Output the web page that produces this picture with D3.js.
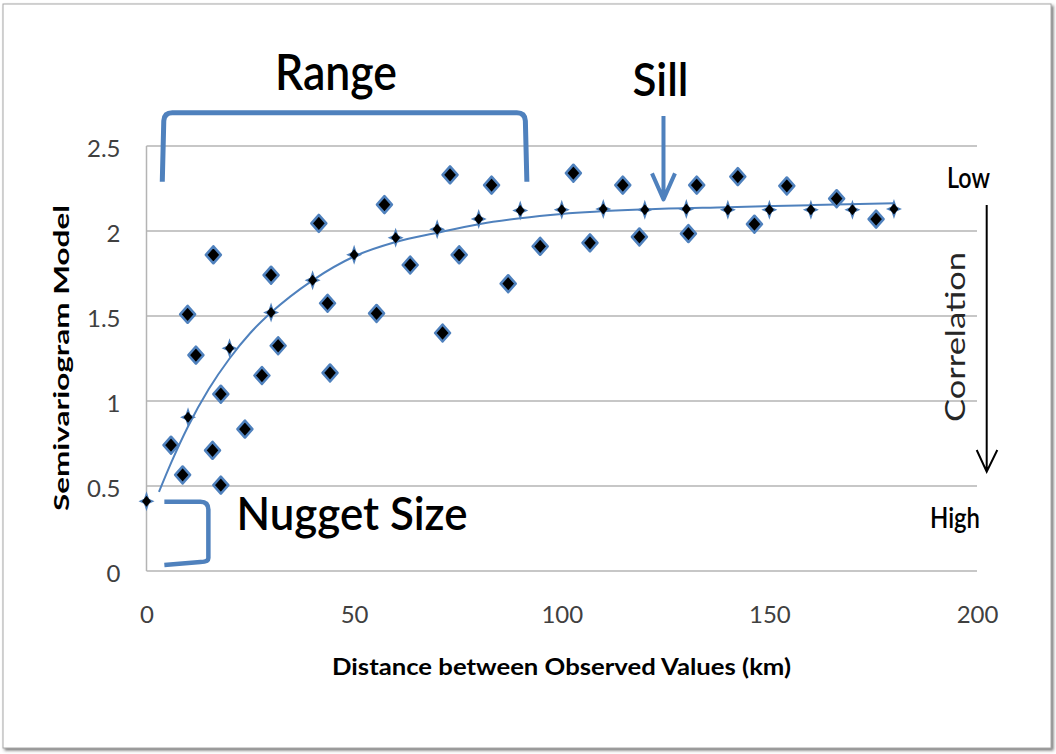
<!DOCTYPE html>
<html>
<head>
<meta charset="utf-8">
<script src="https://cdn.jsdelivr.net/npm/d3@7"></script>
<style>
  html, body { margin: 0; padding: 0; background: #fff; }
  svg { display: block; }
  text { font-family: Lato, "Liberation Sans", sans-serif; }
</style>
</head>
<body>
<div id="chart"></div>
<script>
// observed semivariance (black diamonds)
const obsDist = [5.9, 8.7, 9.9, 11.9, 15.9, 16.1, 17.9, 17.9, 23.7, 27.8, 30.0, 31.7,
    41.5, 43.6, 44.2, 55.4, 57.3, 63.5, 71.3, 73.1, 75.3, 83.1, 87.1, 94.8,
    102.8, 106.8, 114.7, 118.7, 130.5, 132.5, 142.4, 146.4, 154.2, 166.2, 175.7];
const obsGamma = [0.74, 0.565, 1.51, 1.27, 0.71, 1.86, 1.04, 0.505, 0.835, 1.15, 1.74, 1.325,
    2.045, 1.575, 1.165, 1.515, 2.155, 1.80, 1.40, 2.33, 1.86, 2.27, 1.69, 1.91,
    2.34, 1.93, 2.27, 1.965, 1.985, 2.27, 2.32, 2.04, 2.265, 2.19, 2.07];

// model values (small star markers)
const modelDist = [0, 10, 20, 30, 40, 50, 60, 70, 80, 90, 100, 110, 120, 130, 140, 150, 160, 170, 180];
const modelGamma = [0.41, 0.905, 1.31, 1.52, 1.71, 1.86, 1.96, 2.01, 2.07, 2.12, 2.125, 2.13, 2.125,
    2.13, 2.125, 2.125, 2.125, 2.125, 2.13];

// fitted trend line
const trendDist = [3, 6, 10, 15, 20, 25, 30, 40, 50, 60, 70, 80, 90, 100, 120, 140, 160, 180];
const trendGamma = [0.465, 0.64, 0.85, 1.07, 1.25, 1.40, 1.52, 1.71, 1.85, 1.935, 1.99, 2.04,
    2.075, 2.10, 2.127, 2.14, 2.152, 2.163];

const xTicks = [0, 50, 100, 150, 200];
const yTicks = [0, 0.5, 1, 1.5, 2, 2.5];

const width = 1056;
const height = 754;
const blue = "#4f81bd";
const grid = "#b4b4b4";

const svg = d3.select("#chart")
    .append("svg")
    .attr("width", width)
    .attr("height", height);

// Schatten fuer den Rahmen
const defs = svg.append("defs");
defs.append("filter")
    .attr("id", "shadow")
    .attr("x", "-5%").attr("y", "-5%").attr("width", "110%").attr("height", "110%")
    .append("feDropShadow")
    .attr("dx", 2).attr("dy", 2).attr("stdDeviation", 1.5)
    .attr("flood-color", "#555").attr("flood-opacity", 0.8);

svg.append("rect")
    .attr("x", 3).attr("y", 4)
    .attr("width", 1048).attr("height", 744)
    .attr("fill", "#fff")
    .attr("stroke", "#a8a8a8")
    .attr("stroke-width", 1)
    .attr("filter", "url(#shadow)");

const xScale = d3.scaleLinear().domain([0, 200]).range([146.5, 977]);
const yScale = d3.scaleLinear().domain([0, 2.5]).range([571, 146]);

// Gitterlinien
svg.append("g")
    .selectAll("line")
    .data(yTicks)
    .join("line")
    .attr("x1", xScale(0)).attr("x2", xScale(200))
    .attr("y1", d => yScale(d)).attr("y2", d => yScale(d))
    .attr("stroke", grid)
    .attr("stroke-width", 1.5);

svg.append("line")
    .attr("x1", xScale(0)).attr("x2", xScale(0))
    .attr("y1", yScale(2.5)).attr("y2", yScale(0))
    .attr("stroke", grid)
    .attr("stroke-width", 1.5);

// Achsenbeschriftung (ohne Achsenlinie, nur Text)
const leftAxis = d3.axisLeft(yScale).tickValues(yTicks).tickSize(0).tickPadding(26)
    .tickFormat(d3.format("~g"));
const yAxisG = svg.append("g")
    .attr("transform", `translate(${xScale(0)},0)`)
    .call(leftAxis);
yAxisG.select(".domain").remove();
yAxisG.selectAll("text")
    .attr("font-family", "Lato, 'Liberation Sans', sans-serif")
    .attr("font-size", 24)
    .attr("fill", "#404040")
    .attr("dy", "0.45em");

const bottomAxis = d3.axisBottom(xScale).tickValues(xTicks).tickSize(0).tickPadding(35);
const xAxisG = svg.append("g")
    .attr("transform", `translate(0,${yScale(0)})`)
    .call(bottomAxis);
xAxisG.select(".domain").remove();
xAxisG.selectAll("text")
    .attr("font-family", "Lato, 'Liberation Sans', sans-serif")
    .attr("font-size", 24)
    .attr("fill", "#404040");

svg.append("text")
    .text("Distance between Observed Values (km)")
    .attr("x", 561.5).attr("y", 675)
    .attr("text-anchor", "middle")
    .attr("font-size", 22).attr("font-weight", "bold")
    .attr("textLength", 459).attr("lengthAdjust", "spacingAndGlyphs");

svg.append("text")
    .text("Semivariogram Model")
    .attr("transform", "translate(69,358) rotate(-90)")
    .attr("text-anchor", "middle")
    .attr("font-size", 20).attr("font-weight", "bold")
    .attr("textLength", 306).attr("lengthAdjust", "spacingAndGlyphs");

// Trendkurve
const trend = trendDist.map((d, i) => ({x: d, y: trendGamma[i]}));
const curveGenerator = d3.line()
    .x(d => xScale(d.x))
    .y(d => yScale(d.y))
    .curve(d3.curveMonotoneX);
svg.append("path")
    .attr("d", curveGenerator(trend))
    .attr("fill", "none")
    .attr("stroke", blue)
    .attr("stroke-width", 2);

// Modellpunkte als kleine Sterne
const model = modelDist.map((d, i) => ({x: d, y: modelGamma[i]}));
const star = "M0,-10L2.5,-2.5L8,0L2.5,2.5L0,10L-2.5,2.5L-8,0L-2.5,-2.5Z";
const diamond = (w, h) => `M0,${-h}L${w},0L0,${h}L${-w},0Z`;
const modelG = svg.append("g")
    .selectAll("g")
    .data(model)
    .join("g")
    .attr("transform", d => `translate(${xScale(d.x)},${yScale(d.y)})`);
modelG.append("path").attr("d", star).attr("fill", blue);
modelG.append("path").attr("d", diamond(4.5, 5.5)).attr("fill", "#000");

// beobachtete Werte
const obs = obsDist.map((d, i) => ({x: d, y: obsGamma[i]}));
svg.append("g")
    .selectAll("path")
    .data(obs)
    .join("path")
    .attr("transform", d => `translate(${xScale(d.x)},${yScale(d.y)})`)
    .attr("d", diamond(7.5, 8.5))
    .attr("fill", "#000")
    .attr("stroke", blue)
    .attr("stroke-width", 2.5)
    .attr("stroke-linejoin", "round");

// Annotationen: Range-Klammer, Sill-Pfeil, Nugget-Klammer
const rangeL = xScale(3.8), rangeR = xScale(91.6), rangeB = yScale(2.29), rangeT = yScale(2.695);
svg.append("path")
    .attr("d", `M${rangeL},${rangeB}L${rangeL + 1.5},${rangeT + 8}Q${rangeL + 2},${rangeT} ${rangeL + 10},${rangeT}` +
        `L${rangeR - 10},${rangeT}Q${rangeR - 2},${rangeT} ${rangeR - 1.5},${rangeT + 8}L${rangeR},${rangeB}`)
    .attr("fill", "none")
    .attr("stroke", blue)
    .attr("stroke-width", 5);

const sillX = xScale(124.5), sillTop = yScale(2.676), sillTip = yScale(2.186);
svg.append("path")
    .attr("d", `M${sillX},${sillTop}L${sillX},${sillTip - 2}M${sillX - 11.5},${sillTip - 26}L${sillX},${sillTip}L${sillX + 11.5},${sillTip - 26}`)
    .attr("fill", "none")
    .attr("stroke", blue)
    .attr("stroke-width", 4)
    .attr("stroke-linejoin", "round");

const nugL = xScale(4.3), nugR = xScale(14.9), nugT = yScale(0.408), nugB = yScale(0.041);
svg.append("path")
    .attr("d", `M${nugL},${nugT}L${nugR - 8},${nugT}Q${nugR},${nugT} ${nugR},${nugT + 8}` +
        `L${nugR},${nugB - 6}Q${nugR},${nugB - 2} ${nugR - 8},${nugB - 2}L${nugL},${nugB + 1}`)
    .attr("fill", "none")
    .attr("stroke", blue)
    .attr("stroke-width", 4.5);

svg.append("text").text("Range")
    .attr("x", 336).attr("y", 90)
    .attr("text-anchor", "middle")
    .attr("font-size", 49).attr("font-weight", 600)
    .attr("textLength", 122).attr("lengthAdjust", "spacingAndGlyphs");

svg.append("text").text("Sill")
    .attr("x", 660.5).attr("y", 96)
    .attr("text-anchor", "middle")
    .attr("font-size", 47).attr("font-weight", 600)
    .attr("textLength", 56).attr("lengthAdjust", "spacingAndGlyphs");

svg.append("text").text("Nugget Size")
    .attr("x", 236.5).attr("y", 530)
    .attr("font-size", 46).attr("font-weight", 600)
    .attr("textLength", 231).attr("lengthAdjust", "spacingAndGlyphs");

svg.append("text").text("Low")
    .attr("x", 947).attr("y", 188)
    .attr("font-size", 28).attr("font-weight", 600)
    .attr("textLength", 43).attr("lengthAdjust", "spacingAndGlyphs");

svg.append("text").text("High")
    .attr("x", 930).attr("y", 528)
    .attr("font-size", 28).attr("font-weight", 600)
    .attr("textLength", 50).attr("lengthAdjust", "spacingAndGlyphs");

svg.append("text").text("Correlation")
    .attr("transform", "translate(965,337) rotate(-90)")
    .attr("text-anchor", "middle")
    .attr("font-size", 27)
    .attr("fill", "#262626")
    .attr("textLength", 170).attr("lengthAdjust", "spacingAndGlyphs");

// schwarzer Pfeil rechts
svg.append("path")
    .attr("d", "M986.7,205L986.7,471M976.7,450L986.7,471.7L997.3,450")
    .attr("fill", "none")
    .attr("stroke", "#000")
    .attr("stroke-width", 2);
</script>
</body>
</html>
